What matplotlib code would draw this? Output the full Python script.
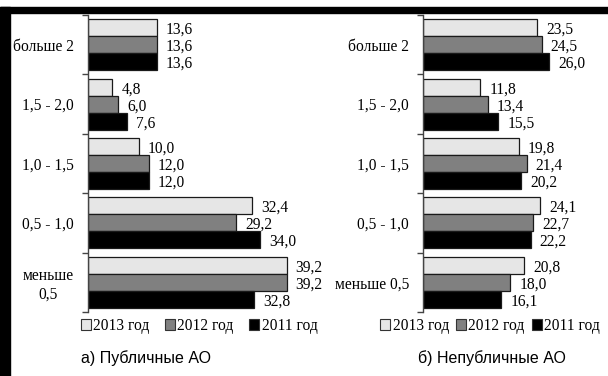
import matplotlib.pyplot as plt
import matplotlib.patches as patches
import numpy as np

# Категории (сверху вниз) и значения
categories_pub = ["больше 2", "1,5 - 2,0", "1,0 - 1,5", "0,5 - 1,0", "меньше\n0,5"]
categories_npub = ["больше 2", "1,5 - 2,0", "1,0 - 1,5", "0,5 - 1,0", "меньше 0,5"]
years = ["2013 год", "2012 год", "2011 год"]

pub_2013 = [13.6, 4.8, 10.0, 32.4, 39.2]
pub_2012 = [13.6, 6.0, 12.0, 29.2, 39.2]
pub_2011 = [13.6, 7.6, 12.0, 34.0, 32.8]

npub_2013 = [23.5, 11.8, 19.8, 24.1, 20.8]
npub_2012 = [24.5, 13.4, 21.4, 22.7, 18.0]
npub_2011 = [26.0, 15.5, 20.2, 22.2, 16.1]

colors = ["#e6e6e6", "#808080", "#000000"]
W, H = 608, 376
SERIF = "Liberation Serif"
SANS = "Liberation Sans"
FS = 11.2


def draw_panel(ax, cats, series, xmax, title, title_x, legend_x, colspace):
    y = np.arange(len(cats))
    h = 0.286
    for i, (vals, col) in enumerate(zip(series, colors)):
        pos = y + (i - 1) * h
        bars = ax.barh(pos, vals, height=h, color=col, edgecolor="#1a1a1a", linewidth=0.9)
        for b, v in zip(bars, vals):
            ax.annotate(f"{v:.1f}".replace(".", ","),
                        (b.get_width(), b.get_y() + b.get_height() / 2),
                        xytext=(6.5, -1.5), textcoords="offset points",
                        ha="left", va="center", fontsize=FS, family=SERIF)
    ax.set_xlim(0, xmax)
    ax.set_ylim(len(cats) - 0.5, -0.5)
    ax.set_yticks(y)
    ax.set_yticklabels(cats, family=SERIF, fontsize=FS, multialignment="center")
    ax.set_yticks(np.arange(len(cats) + 1) - 0.5, minor=True)
    ax.tick_params(axis="y", which="major", length=0, pad=10)
    ax.tick_params(axis="y", which="minor", length=4, width=1, color="#444444")
    ax.set_xticks([])
    for s in ["top", "right", "bottom"]:
        ax.spines[s].set_visible(False)
    ax.spines["left"].set_color("#444444")
    ax.spines["left"].set_linewidth(1)

    handles = [patches.Patch(facecolor=c, edgecolor="#333333", linewidth=0.8) for c in colors]
    fig.legend(handles, years, loc="center", bbox_to_anchor=(legend_x / W, 1 - 326 / H),
               ncol=3, frameon=False, handlelength=0.65, handleheight=0.65,
               handletextpad=0.15, columnspacing=colspace, borderpad=0,
               prop={"family": SERIF, "size": FS})
    fig.text(title_x / W, 1 - 358 / H, title, ha="center", va="center",
             family=SANS, fontsize=11.5)


fig = plt.figure(figsize=(W / 100, H / 100), dpi=100)

top = 1 - 15 / H
bottom = 1 - 312 / H
ax1 = fig.add_axes([88 / W, bottom, 228 / W, top - bottom])
ax2 = fig.add_axes([423 / W, bottom, 145.5 / W, top - bottom])

draw_panel(ax1, categories_pub, [pub_2013, pub_2012, pub_2011], 45,
           "а) Публичные АО", 146, 199, 1.0)
draw_panel(ax2, categories_npub, [npub_2013, npub_2012, npub_2011], 30,
           "б) Непубличные АО", 492, 490, 0.45)

# Чёрная рамка сверху и слева
fig.patches.append(patches.Rectangle((0, 1 - 13 / H), 1, 6 / H, transform=fig.transFigure,
                                     color="black", zorder=10))
fig.patches.append(patches.Rectangle((0, 0), 10 / W, 1 - 7 / H, transform=fig.transFigure,
                                     color="black", zorder=10))

fig.savefig("out.png", dpi=100)
